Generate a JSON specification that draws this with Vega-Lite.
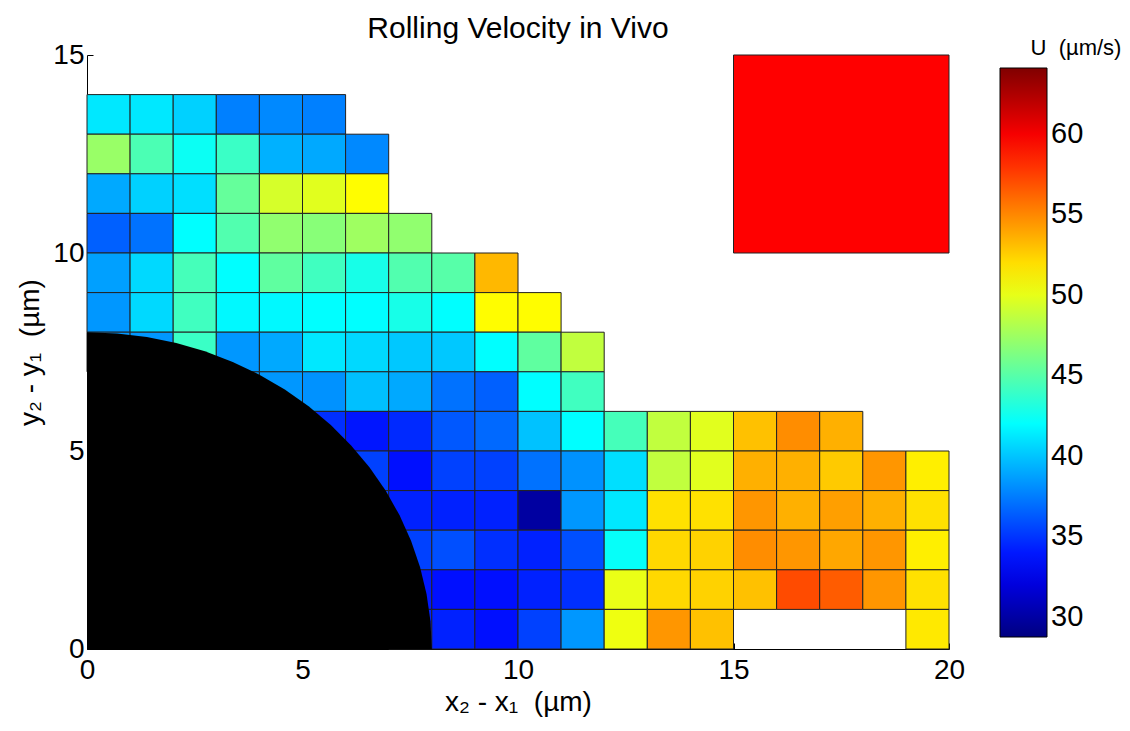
{
  "$schema": "https://vega.github.io/schema/vega-lite/v6.json",
  "width": 862,
  "height": 594,
  "autosize": {"type": "none"},
  "padding": {"left": 87, "top": 55, "right": 181, "bottom": 82},
  "background": "white",
  "title": {"text": "Rolling Velocity in Vivo", "font": "Liberation Sans", "fontSize": 30, "fontWeight": "normal", "color": "black", "anchor": "middle", "offset": -6},
  "config": {
    "view": {"stroke": null},
    "axis": {"labelFont": "Liberation Sans", "labelFontSize": 28, "labelColor": "black", "labelFlush": false, "titleFont": "Liberation Sans", "titleFontSize": 28, "titleFontWeight": "normal", "titleColor": "black", "domainColor": "black", "tickColor": "black", "tickSize": -6, "grid": false},
    "legend": {"labelFont": "Liberation Sans", "titleFont": "Liberation Sans"}
  },
  "datasets": {
    "cells": [
      {"x0":0,"x1":1,"y0":13,"y1":14,"U":41.2},{"x0":1,"x1":2,"y0":13,"y1":14,"U":41.2},{"x0":2,"x1":3,"y0":13,"y1":14,"U":40.4},{"x0":3,"x1":4,"y0":13,"y1":14,"U":37.6},{"x0":4,"x1":5,"y0":13,"y1":14,"U":37.9},{"x0":5,"x1":6,"y0":13,"y1":14,"U":37.6},
      {"x0":0,"x1":1,"y0":12,"y1":13,"U":47.3},{"x0":1,"x1":2,"y0":12,"y1":13,"U":44.6},{"x0":2,"x1":3,"y0":12,"y1":13,"U":42.4},{"x0":3,"x1":4,"y0":12,"y1":13,"U":44.0},{"x0":4,"x1":5,"y0":12,"y1":13,"U":39.3},{"x0":5,"x1":6,"y0":12,"y1":13,"U":39.0},{"x0":6,"x1":7,"y0":12,"y1":13,"U":37.9},
      {"x0":0,"x1":1,"y0":11,"y1":12,"U":39.0},{"x0":1,"x1":2,"y0":11,"y1":12,"U":40.4},{"x0":2,"x1":3,"y0":11,"y1":12,"U":40.9},{"x0":3,"x1":4,"y0":11,"y1":12,"U":45.5},{"x0":4,"x1":5,"y0":11,"y1":12,"U":49.4},{"x0":5,"x1":6,"y0":11,"y1":12,"U":49.8},{"x0":6,"x1":7,"y0":11,"y1":12,"U":50.9},
      {"x0":0,"x1":1,"y0":10,"y1":11,"U":36.5},{"x0":1,"x1":2,"y0":10,"y1":11,"U":37.1},{"x0":2,"x1":3,"y0":10,"y1":11,"U":42.0},{"x0":3,"x1":4,"y0":10,"y1":11,"U":44.8},{"x0":4,"x1":5,"y0":10,"y1":11,"U":47.0},{"x0":5,"x1":6,"y0":10,"y1":11,"U":46.7},{"x0":6,"x1":7,"y0":10,"y1":11,"U":47.5},{"x0":7,"x1":8,"y0":10,"y1":11,"U":47.0},
      {"x0":0,"x1":1,"y0":9,"y1":10,"U":38.7},{"x0":1,"x1":2,"y0":9,"y1":10,"U":40.7},{"x0":2,"x1":3,"y0":9,"y1":10,"U":44.4},{"x0":3,"x1":4,"y0":9,"y1":10,"U":42.0},{"x0":4,"x1":5,"y0":9,"y1":10,"U":45.3},{"x0":5,"x1":6,"y0":9,"y1":10,"U":44.2},{"x0":6,"x1":7,"y0":9,"y1":10,"U":42.8},{"x0":7,"x1":8,"y0":9,"y1":10,"U":44.8},{"x0":8,"x1":9,"y0":9,"y1":10,"U":45.0},{"x0":9,"x1":10,"y0":9,"y1":10,"U":53.3},
      {"x0":0,"x1":1,"y0":8,"y1":9,"U":38.4},{"x0":1,"x1":2,"y0":8,"y1":9,"U":40.7},{"x0":2,"x1":3,"y0":8,"y1":9,"U":44.2},{"x0":3,"x1":4,"y0":8,"y1":9,"U":41.8},{"x0":4,"x1":5,"y0":8,"y1":9,"U":41.8},{"x0":5,"x1":6,"y0":8,"y1":9,"U":42.0},{"x0":6,"x1":7,"y0":8,"y1":9,"U":42.0},{"x0":7,"x1":8,"y0":8,"y1":9,"U":42.8},{"x0":8,"x1":9,"y0":8,"y1":9,"U":42.0},{"x0":9,"x1":10,"y0":8,"y1":9,"U":50.9},{"x0":10,"x1":11,"y0":8,"y1":9,"U":50.9},
      {"x0":0,"x1":1,"y0":7,"y1":8,"U":38.4},{"x0":1,"x1":2,"y0":7,"y1":8,"U":38.4},{"x0":2,"x1":3,"y0":7,"y1":8,"U":44.0},{"x0":3,"x1":4,"y0":7,"y1":8,"U":38.4},{"x0":4,"x1":5,"y0":7,"y1":8,"U":39.0},{"x0":5,"x1":6,"y0":7,"y1":8,"U":41.2},{"x0":6,"x1":7,"y0":7,"y1":8,"U":40.7},{"x0":7,"x1":8,"y0":7,"y1":8,"U":40.1},{"x0":8,"x1":9,"y0":7,"y1":8,"U":40.1},{"x0":9,"x1":10,"y0":7,"y1":8,"U":42.0},{"x0":10,"x1":11,"y0":7,"y1":8,"U":45.3},{"x0":11,"x1":12,"y0":7,"y1":8,"U":48.7},
      {"x0":3,"x1":4,"y0":6,"y1":7,"U":38.4},{"x0":4,"x1":5,"y0":6,"y1":7,"U":38.4},{"x0":5,"x1":6,"y0":6,"y1":7,"U":38.2},{"x0":6,"x1":7,"y0":6,"y1":7,"U":39.8},{"x0":7,"x1":8,"y0":6,"y1":7,"U":39.0},{"x0":8,"x1":9,"y0":6,"y1":7,"U":37.1},{"x0":9,"x1":10,"y0":6,"y1":7,"U":36.5},{"x0":10,"x1":11,"y0":6,"y1":7,"U":42.0},{"x0":11,"x1":12,"y0":6,"y1":7,"U":44.2},
      {"x0":5,"x1":6,"y0":5,"y1":6,"U":34.8},{"x0":6,"x1":7,"y0":5,"y1":6,"U":33.9},{"x0":7,"x1":8,"y0":5,"y1":6,"U":34.6},{"x0":8,"x1":9,"y0":5,"y1":6,"U":36.2},{"x0":9,"x1":10,"y0":5,"y1":6,"U":36.8},{"x0":10,"x1":11,"y0":5,"y1":6,"U":39.9},{"x0":11,"x1":12,"y0":5,"y1":6,"U":42.0},{"x0":12,"x1":13,"y0":5,"y1":6,"U":44.4},{"x0":13,"x1":14,"y0":5,"y1":6,"U":48.7},{"x0":14,"x1":15,"y0":5,"y1":6,"U":49.8},{"x0":15,"x1":16,"y0":5,"y1":6,"U":53.0},{"x0":16,"x1":17,"y0":5,"y1":6,"U":54.8},{"x0":17,"x1":18,"y0":5,"y1":6,"U":53.6},
      {"x0":6,"x1":7,"y0":4,"y1":5,"U":35.4},{"x0":7,"x1":8,"y0":4,"y1":5,"U":33.7},{"x0":8,"x1":9,"y0":4,"y1":5,"U":35.4},{"x0":9,"x1":10,"y0":4,"y1":5,"U":35.4},{"x0":10,"x1":11,"y0":4,"y1":5,"U":37.1},{"x0":11,"x1":12,"y0":4,"y1":5,"U":38.2},{"x0":12,"x1":13,"y0":4,"y1":5,"U":40.9},{"x0":13,"x1":14,"y0":4,"y1":5,"U":48.7},{"x0":14,"x1":15,"y0":4,"y1":5,"U":49.8},{"x0":15,"x1":16,"y0":4,"y1":5,"U":53.6},{"x0":16,"x1":17,"y0":4,"y1":5,"U":53.6},{"x0":17,"x1":18,"y0":4,"y1":5,"U":52.7},{"x0":18,"x1":19,"y0":4,"y1":5,"U":54.5},{"x0":19,"x1":20,"y0":4,"y1":5,"U":51.4},
      {"x0":6,"x1":7,"y0":3,"y1":4,"U":35.4},{"x0":7,"x1":8,"y0":3,"y1":4,"U":34.3},{"x0":8,"x1":9,"y0":3,"y1":4,"U":34.3},{"x0":9,"x1":10,"y0":3,"y1":4,"U":34.3},{"x0":10,"x1":11,"y0":3,"y1":4,"U":29.9},{"x0":11,"x1":12,"y0":3,"y1":4,"U":38.4},{"x0":12,"x1":13,"y0":3,"y1":4,"U":41.2},{"x0":13,"x1":14,"y0":3,"y1":4,"U":51.9},{"x0":14,"x1":15,"y0":3,"y1":4,"U":51.9},{"x0":15,"x1":16,"y0":3,"y1":4,"U":54.5},{"x0":16,"x1":17,"y0":3,"y1":4,"U":53.6},{"x0":17,"x1":18,"y0":3,"y1":4,"U":54.2},{"x0":18,"x1":19,"y0":3,"y1":4,"U":53.6},{"x0":19,"x1":20,"y0":3,"y1":4,"U":51.9},
      {"x0":7,"x1":8,"y0":2,"y1":3,"U":35.4},{"x0":8,"x1":9,"y0":2,"y1":3,"U":35.9},{"x0":9,"x1":10,"y0":2,"y1":3,"U":34.8},{"x0":10,"x1":11,"y0":2,"y1":3,"U":34.3},{"x0":11,"x1":12,"y0":2,"y1":3,"U":35.9},{"x0":12,"x1":13,"y0":2,"y1":3,"U":42.2},{"x0":13,"x1":14,"y0":2,"y1":3,"U":52.2},{"x0":14,"x1":15,"y0":2,"y1":3,"U":52.4},{"x0":15,"x1":16,"y0":2,"y1":3,"U":54.8},{"x0":16,"x1":17,"y0":2,"y1":3,"U":54.5},{"x0":17,"x1":18,"y0":2,"y1":3,"U":53.9},{"x0":18,"x1":19,"y0":2,"y1":3,"U":54.5},{"x0":19,"x1":20,"y0":2,"y1":3,"U":51.4},
      {"x0":7,"x1":8,"y0":1,"y1":2,"U":34.0},{"x0":8,"x1":9,"y0":1,"y1":2,"U":33.7},{"x0":9,"x1":10,"y0":1,"y1":2,"U":33.7},{"x0":10,"x1":11,"y0":1,"y1":2,"U":34.3},{"x0":11,"x1":12,"y0":1,"y1":2,"U":34.8},{"x0":12,"x1":13,"y0":1,"y1":2,"U":50.1},{"x0":13,"x1":14,"y0":1,"y1":2,"U":52.2},{"x0":14,"x1":15,"y0":1,"y1":2,"U":52.4},{"x0":15,"x1":16,"y0":1,"y1":2,"U":53.0},{"x0":16,"x1":17,"y0":1,"y1":2,"U":57.1},{"x0":17,"x1":18,"y0":1,"y1":2,"U":56.5},{"x0":18,"x1":19,"y0":1,"y1":2,"U":54.5},{"x0":19,"x1":20,"y0":1,"y1":2,"U":51.9},
      {"x0":7,"x1":8,"y0":0,"y1":1,"U":34.3},{"x0":8,"x1":9,"y0":0,"y1":1,"U":34.3},{"x0":9,"x1":10,"y0":0,"y1":1,"U":33.7},{"x0":10,"x1":11,"y0":0,"y1":1,"U":35.4},{"x0":11,"x1":12,"y0":0,"y1":1,"U":38.4},{"x0":12,"x1":13,"y0":0,"y1":1,"U":50.3},{"x0":13,"x1":14,"y0":0,"y1":1,"U":54.5},{"x0":14,"x1":15,"y0":0,"y1":1,"U":53.0},{"x0":19,"x1":20,"y0":0,"y1":1,"U":51.6}
    ],
    "square": [{"x0":15,"x1":20,"y0":10,"y1":15}],
    "circle": [
      {"cx":0,"cy":8},{"cx":0.697,"cy":7.970},{"cx":1.389,"cy":7.878},{"cx":2.071,"cy":7.727},{"cx":2.736,"cy":7.518},{"cx":3.381,"cy":7.250},{"cx":4.0,"cy":6.928},{"cx":4.589,"cy":6.553},{"cx":5.142,"cy":6.128},{"cx":5.657,"cy":5.657},{"cx":6.128,"cy":5.142},{"cx":6.553,"cy":4.589},{"cx":6.928,"cy":4.0},{"cx":7.250,"cy":3.381},{"cx":7.518,"cy":2.736},{"cx":7.727,"cy":2.071},{"cx":7.878,"cy":1.389},{"cx":7.970,"cy":0.697},{"cx":8,"cy":0}
    ]
  },
  "layer": [
    {
      "data": {"name": "cells"},
      "mark": {"type": "rect", "stroke": "#222222", "strokeWidth": 1},
      "encoding": {
        "x": {"field": "x0", "type": "quantitative", "title": "x\u2082 - x\u2081\u00a0\u00a0(\u00b5m)", "scale": {"domain": [0, 20], "nice": false, "zero": false}, "axis": {"values": [0, 5, 10, 15, 20], "labelPadding": 13, "titlePadding": 4}},
        "x2": {"field": "x1"},
        "y": {"field": "y0", "type": "quantitative", "title": "y\u2082 - y\u2081\u00a0\u00a0(\u00b5m)", "scale": {"domain": [0, 15], "nice": false, "zero": false}, "axis": {"values": [0, 5, 10, 15], "labelPadding": 9, "titlePadding": 8}},
        "y2": {"field": "y1"},
        "color": {
          "field": "U", "type": "quantitative",
          "scale": {"domain": [28.75, 64.1], "range": ["#000080", "#0000ff", "#0080ff", "#00ffff", "#80ff80", "#ffff00", "#ff8000", "#ff0000", "#800000"], "interpolate": "rgb"},
          "legend": {"title": "\u200b\u00a0\u00a0\u00a0\u00a0\u00a0U\u00a0\u00a0(\u00b5m/s)", "orient": "none", "legendX": 913, "legendY": -17, "direction": "vertical", "gradientLength": 569, "gradientThickness": 47, "gradientStrokeColor": "black", "gradientStrokeWidth": 1, "values": [30, 35, 40, 45, 50, 55, 60], "labelFontSize": 29, "labelColor": "black", "labelOffset": 4, "labelOverlap": false, "labelFlush": false, "titleFontSize": 22, "titleFontWeight": "normal", "titleColor": "black", "titlePadding": 8}
        }
      }
    },
    {
      "data": {"name": "square"},
      "mark": {"type": "rect", "fill": "#ff0000", "stroke": "#222222", "strokeWidth": 1},
      "encoding": {
        "x": {"field": "x0", "type": "quantitative", "title": "x\u2082 - x\u2081\u00a0\u00a0(\u00b5m)"},
        "x2": {"field": "x1"},
        "y": {"field": "y0", "type": "quantitative", "title": "y\u2082 - y\u2081\u00a0\u00a0(\u00b5m)"},
        "y2": {"field": "y1"}
      }
    },
    {
      "data": {"name": "circle"},
      "mark": {"type": "area", "color": "black", "interpolate": "linear"},
      "encoding": {
        "x": {"field": "cx", "type": "quantitative", "title": "x\u2082 - x\u2081\u00a0\u00a0(\u00b5m)"},
        "y": {"field": "cy", "type": "quantitative", "title": "y\u2082 - y\u2081\u00a0\u00a0(\u00b5m)"}
      }
    }
  ]
}
